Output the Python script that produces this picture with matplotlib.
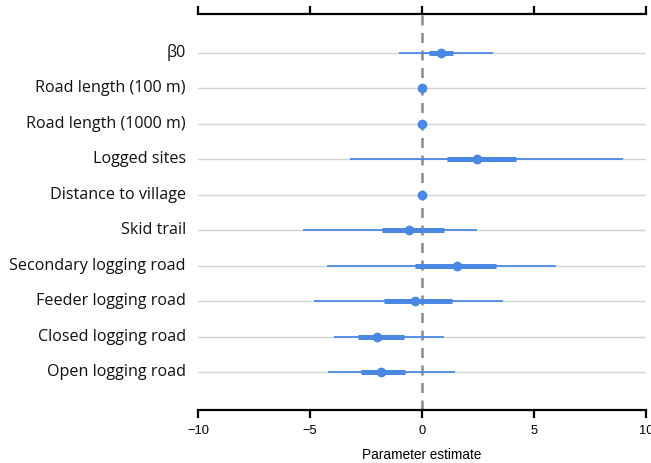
import matplotlib
matplotlib.use("Agg")
import matplotlib.pyplot as plt
import numpy as np

labels = ["β0", "Road length (100 m)", "Road length (1000 m)", "Logged sites",
          "Distance to village", "Skid trail", "Secondary logging road",
          "Feeder logging road", "Closed logging road", "Open logging road"]
estimate = [0.85, 0.0, 0.0, 2.46, 0.0, -0.57, 1.56, -0.30, -2.00, -1.84]
outer_lo = [-1.03, 0.0, 0.0, -3.20, 0.0, -5.33, -4.26, -4.82, -3.91, -4.21]
outer_hi = [3.17, 0.0, 0.0, 8.96, 0.0, 2.47, 5.97, 3.63, 0.97, 1.46]
inner_lo = [0.30, 0.0, 0.0, 1.12, 0.0, -1.80, -0.31, -1.68, -2.87, -2.74]
inner_hi = [1.38, 0.0, 0.0, 4.18, 0.0, 0.97, 3.29, 1.35, -0.80, -0.76]
xticks = [-10, -5, 0, 5, 10]

blue = "#4a88e4"

fig = plt.figure(figsize=(6.51, 4.64), dpi=100)
ax = fig.add_axes([198/651, 1-411/464, (646-198)/651, (411-15)/464])

n = len(labels)
ypos = np.arange(n)[::-1]

for y in ypos:
    ax.axhline(y, color="#d4d4d4", lw=1.0, zorder=1)
ax.axvline(0, color="#8a8a8a", lw=1.8, ls=(0, (4, 3)), zorder=2)

ax.hlines(ypos, outer_lo, outer_hi, color=blue, lw=1.3, zorder=3)
ax.hlines(ypos, inner_lo, inner_hi, color=blue, lw=3.6, zorder=4)
ax.plot(estimate, ypos, "o", color=blue, ms=6, zorder=5)

ax.set_xlim(-10, 10)
ax.set_ylim(-1.07, n - 1 + 1.1)
ax.set_xticks(xticks)
ax.set_xticklabels(["\u2212" + str(abs(t)) if t < 0 else str(t) for t in xticks],
                   family="Liberation Sans", fontsize=9.3)
ax.set_yticks([])
for s in ["left", "right"]:
    ax.spines[s].set_visible(False)
for s in ["top", "bottom"]:
    ax.spines[s].set_linewidth(1.6)
    ax.spines[s].set_color("black")
ax.tick_params(axis="x", which="both", top=True, bottom=True, direction="out",
               length=6, width=1.6, pad=4)
ax.tick_params(axis="x", labeltop=False)
ax.set_xlabel("Parameter estimate", family="Liberation Sans", fontsize=9.8, labelpad=8)

for lab, y in zip(labels, ypos):
    ax.text(-0.027, y + 0.03, lab, transform=ax.get_yaxis_transform(), ha="right",
            va="center", family="Open Sans", fontsize=11.6, color="#111111")

fig.savefig("out.png", dpi=100)
